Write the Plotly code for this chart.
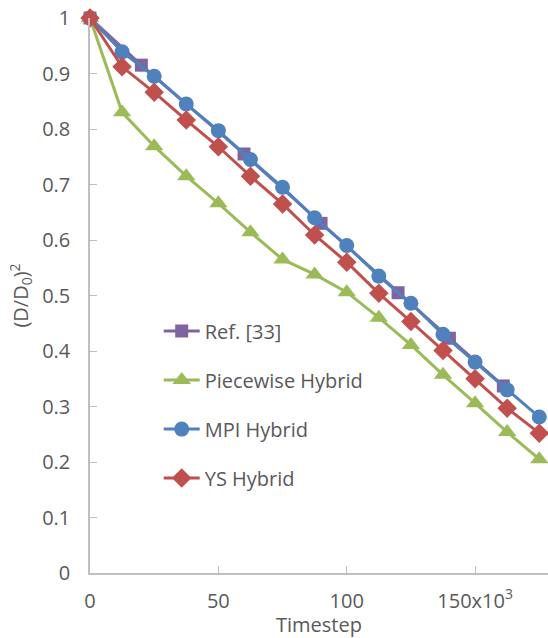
import plotly.graph_objects as go

# Data (timestep in thousands)
ref_x = [0, 20, 60, 90, 120, 140, 161]
ref_y = [1.0, 0.915, 0.755, 0.630, 0.505, 0.423, 0.337]

hyb_x = [0, 12.5, 25, 37.5, 50, 62.5, 75, 87.5, 100, 112.5, 125, 137.5, 150, 162.5, 175]
piecewise_y = [1.0, 0.830, 0.769, 0.715, 0.666, 0.614, 0.565, 0.538, 0.506, 0.460, 0.411, 0.357, 0.306, 0.254, 0.205]
mpi_y = [1.0, 0.939, 0.895, 0.845, 0.797, 0.745, 0.695, 0.640, 0.590, 0.535, 0.486, 0.430, 0.380, 0.330, 0.281]
ys_y = [1.0, 0.912, 0.866, 0.816, 0.768, 0.715, 0.665, 0.609, 0.560, 0.504, 0.453, 0.401, 0.350, 0.297, 0.252]

x_tickvals = [0, 50, 100, 150]
x_ticktext = ["0", "50", "100", "150x10<sup>3</sup>"]
y_tickvals = [0, 0.1, 0.2, 0.3, 0.4, 0.5, 0.6, 0.7, 0.8, 0.9, 1]
y_ticktext = ["0", "0.1", "0.2", "0.3", "0.4", "0.5", "0.6", "0.7", "0.8", "0.9", "1"]

FONT = "Open Sans"
TXT = "#595959"
AX = "#BFBFBF"
FS = 20

series = [
    ("Ref. [33]", ref_x, ref_y, "#8064A2", "square", 13),
    ("Piecewise Hybrid", hyb_x, piecewise_y, "#9BBB59", "triangle-up", 16),
    ("MPI Hybrid", hyb_x, mpi_y, "#4F81BD", "circle", 15),
    ("YS Hybrid", hyb_x, ys_y, "#C0504D", "diamond", 15),
]

fig = go.Figure()
for i, (name, xs, ys, col, sym, sz) in enumerate(series):
    fig.add_trace(go.Scatter(
        x=xs, y=ys, name=name, mode="lines+markers",
        line=dict(color=col, width=3),
        marker=dict(symbol=sym, size=sz, color=col),
        legendgroup=f"g{i}", cliponaxis=False,
    ))

fig.update_layout(
    width=548, height=638,
    margin=dict(l=90, r=0, t=18, b=65),
    paper_bgcolor="white", plot_bgcolor="white",
    font=dict(family=FONT, size=FS, color=TXT),
    showlegend=True,
    legend=dict(
        x=0.15, y=0.471, xanchor="left", yanchor="top",
        bgcolor="rgba(0,0,0,0)", tracegroupgap=20, itemwidth=36,
        font=dict(family=FONT, size=FS, color=TXT),
    ),
    xaxis=dict(
        range=[0, 178.4], tickvals=x_tickvals, ticktext=x_ticktext,
        showgrid=False, zeroline=False, showline=True, linecolor=AX, linewidth=1.5,
        ticks="inside", ticklen=7, tickcolor=AX, tickwidth=1,
        ticklabelstandoff=9,
        title=dict(text="Timestep", font=dict(family=FONT, size=FS, color=TXT), standoff=2),
        tickfont=dict(family=FONT, size=FS, color=TXT),
    ),
    yaxis=dict(
        range=[0, 1], tickvals=y_tickvals, ticktext=y_ticktext,
        showgrid=False, zeroline=False, showline=True, linecolor=AX, linewidth=1.5,
        ticks="inside", ticklen=7, tickcolor=AX, tickwidth=1,
        ticklabelstandoff=14,
        title=dict(text="(D/D<sub>0</sub>)<sup>2</sup>", font=dict(family=FONT, size=FS, color=TXT), standoff=8),
        tickfont=dict(family=FONT, size=FS, color=TXT),
    ),
)

fig.write_html("out.html")
